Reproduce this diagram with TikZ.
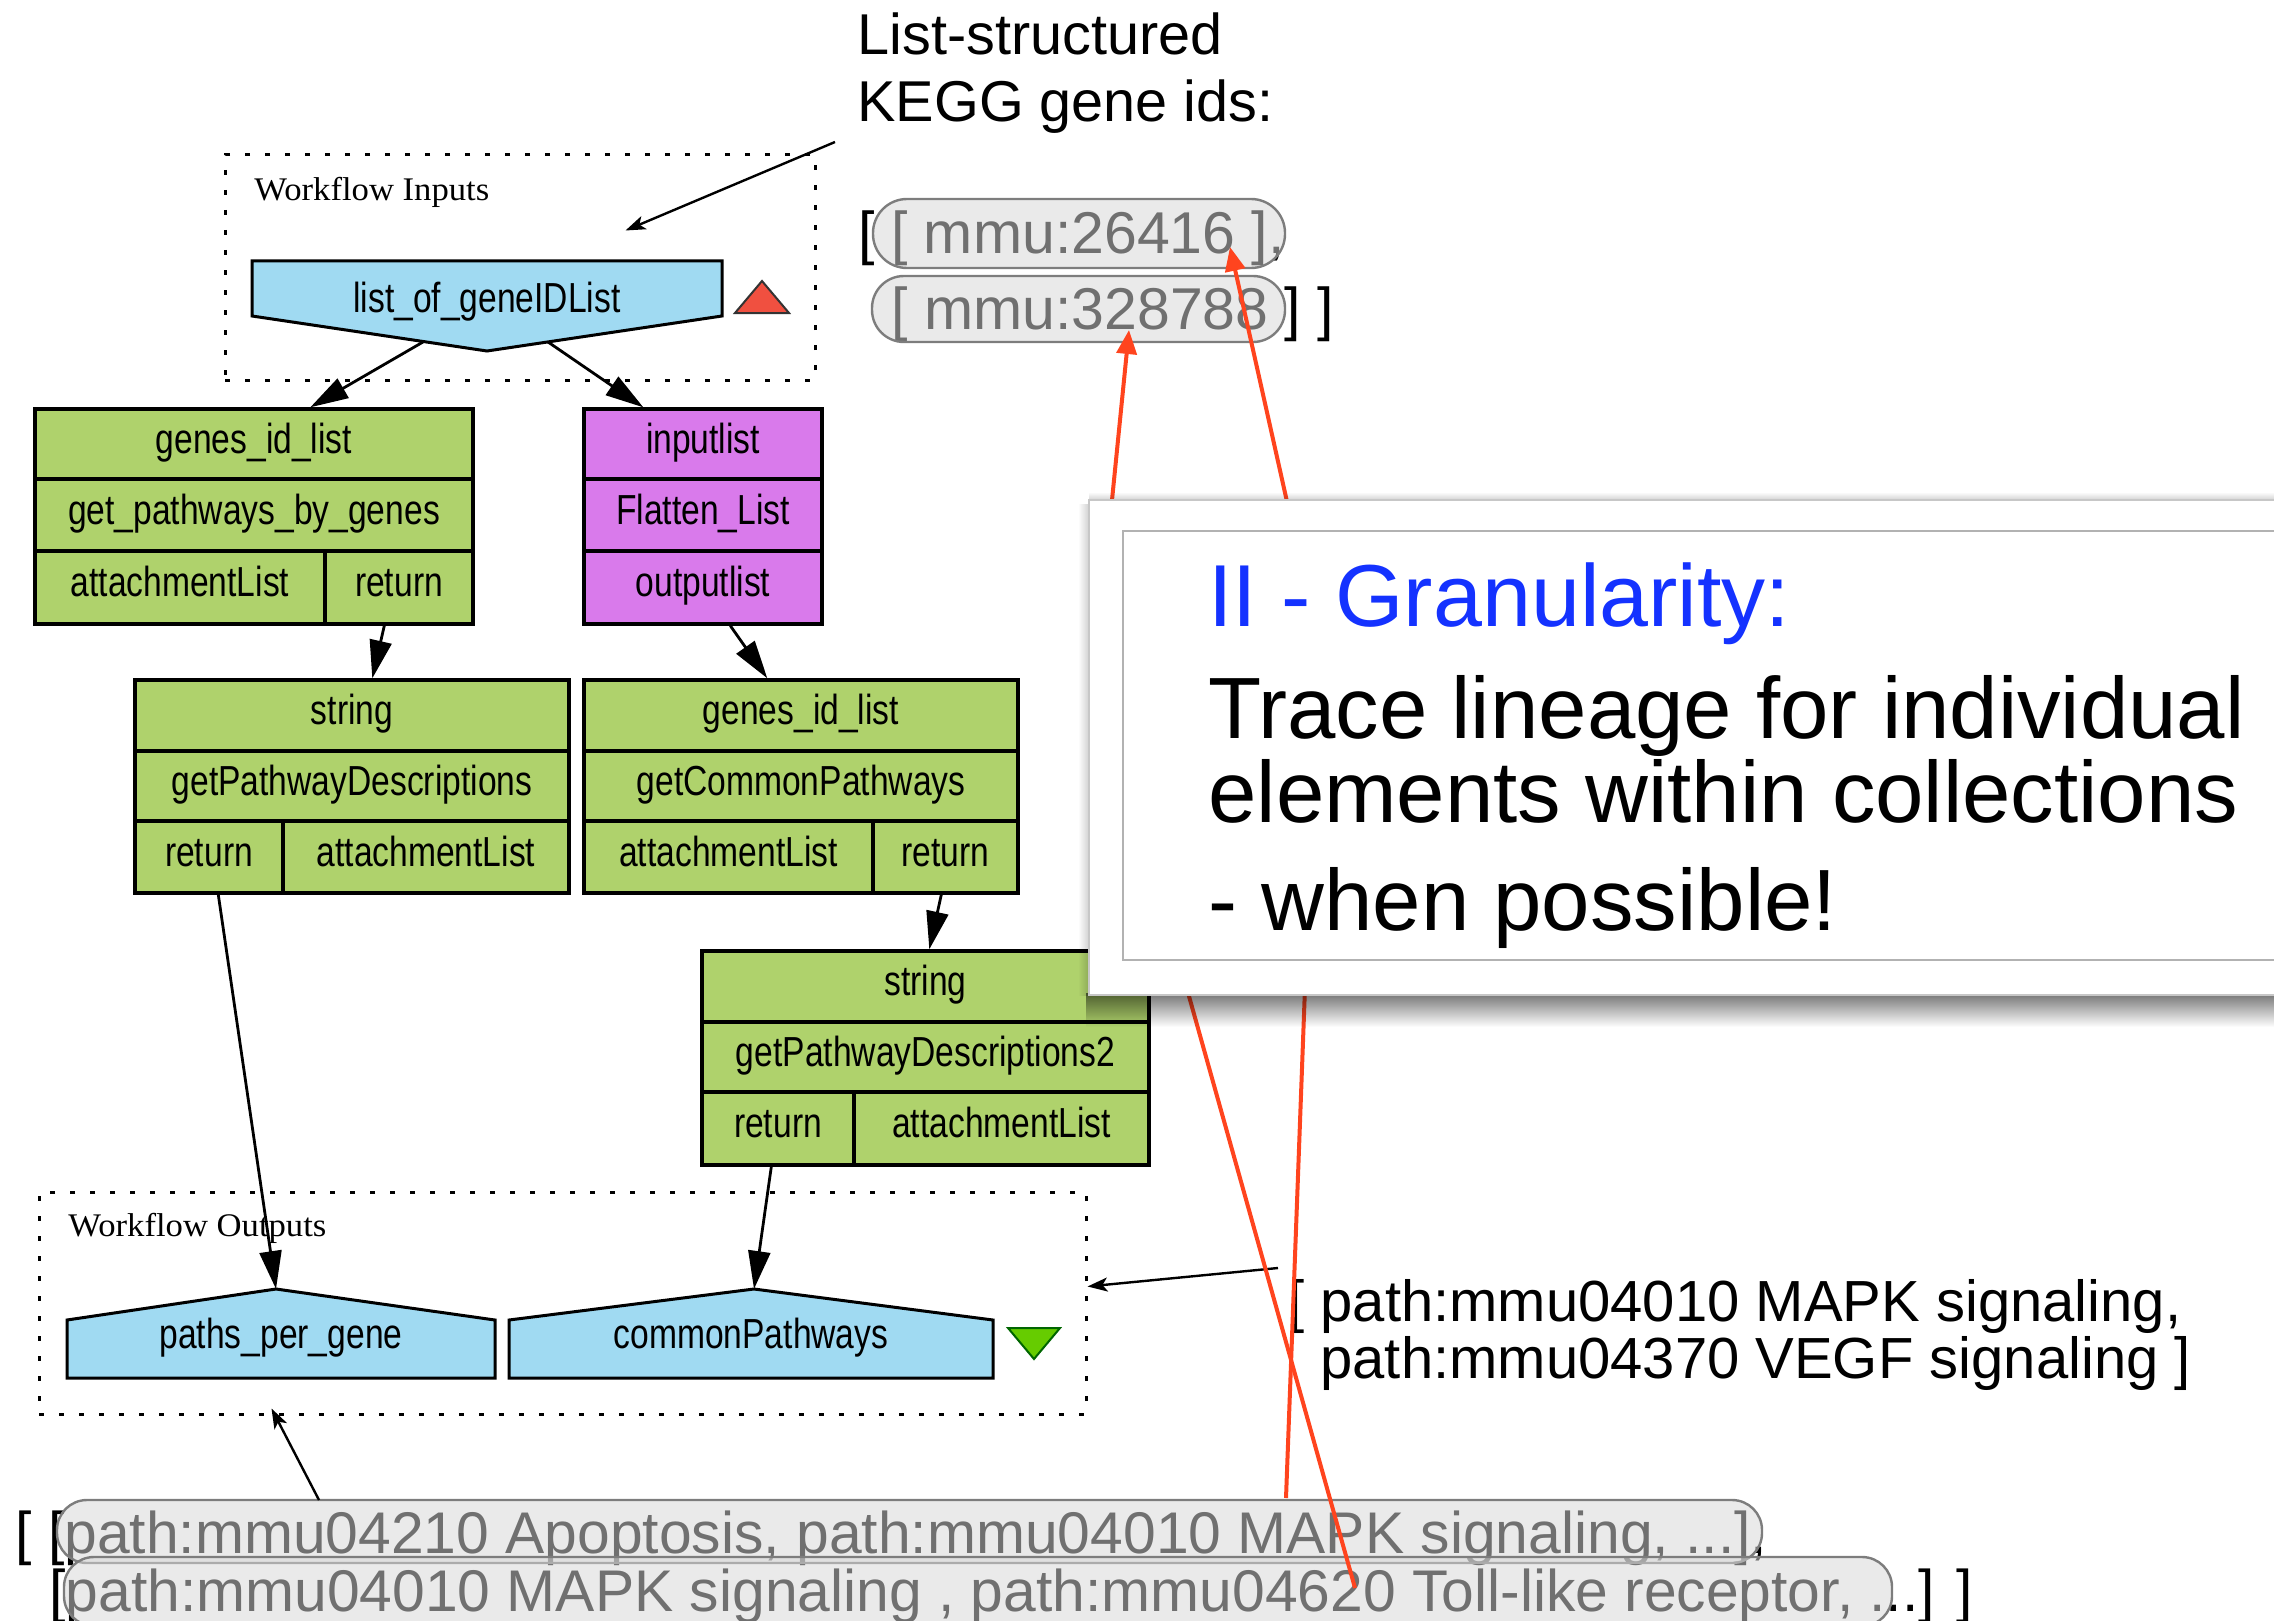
\documentclass[tikz,border=0pt]{standalone}
\usepackage{fontspec}
\setmainfont{Liberation Sans}
\newfontfamily\cellfont[FakeStretch=0.8]{Liberation Sans}
\newfontfamily\clusterfont[FakeStretch=1.05]{Liberation Serif}
\usetikzlibrary{arrows.meta,fit,fadings,calc}

\definecolor{procgreen}{RGB}{175,210,108}
\definecolor{localpurple}{RGB}{217,122,235}
\definecolor{portblue}{RGB}{160,218,242}
\definecolor{inputred}{RGB}{240,80,64}
\definecolor{outputgreen}{RGB}{102,204,0}
\definecolor{tracered}{RGB}{255,68,30}
\definecolor{titleblue}{RGB}{20,50,255}
\definecolor{pillfill}{RGB}{215,215,215}
\definecolor{pilledge}{RGB}{125,125,125}

\tikzfading[name=shadowdown, top color=transparent!45, bottom color=transparent!100]
\tikzfading[name=shadowup, top color=transparent!100, bottom color=transparent!80]
\tikzfading[name=shadowleft, left color=transparent!100, right color=transparent!80]

% one table cell of a processor box: style, name, x1, y1, x2, y2, label
\newcommand\cellnode[7]{%
  \node[#1, minimum width={(#5-#3)*0.5pt}, minimum height={(#6-#4)*0.5pt}]
    (#2) at ({(#3+#5)/2},{(#4+#6)/2}) {#7};}

\begin{document}
\begin{tikzpicture}[x=0.5pt, y=-0.5pt,
  cell/.style={draw, line width=1.7pt, inner sep=0pt,
    font=\cellfont\fontsize{21}{21}\selectfont, text height=0.97em, text depth=0.03em},
  gcell/.style={cell, fill=procgreen},
  pcell/.style={cell, fill=localpurple},
  portlabel/.style={inner sep=0pt, font=\cellfont\fontsize{21}{21}\selectfont,
    text height=0.95em, text depth=0.05em},
  portshape/.style={fill=portblue, draw=black, line width=1.5pt, line join=miter},
  cluster/.style={draw, line width=1.5pt, dash pattern=on 2.5pt off 7.5pt, inner sep=0pt, fit={#1}},
  clusterlabel/.style={anchor=base west, inner sep=0pt, font=\clusterfont\fontsize{16.5}{16.5}\selectfont},
  flow/.style={line width=1.4pt, -{Triangle[length=19pt,width=11pt]}},
  note/.style={line width=1.2pt, -{Stealth[length=10pt,width=7pt,inset=2.5pt]}},
  trace/.style={tracered, line width=2pt, line join=round, -{Triangle[length=12pt,width=10pt]}},
  pill/.style={fill=pillfill, fill opacity=0.52, draw=pilledge, line width=1.2pt},
  plain/.style={anchor=base west, inner sep=0pt},
]
\useasboundingbox (0,0) rectangle (2274,1621);
\begin{scope}
\clip (0,0) rectangle (2274,1621);

% ---------- workflow clusters ----------
\node[cluster={(225,155)(815,380)}] (inputs) {};
\node[clusterlabel] (inputsLabel) at (254,201) {Workflow Inputs};
\node[cluster={(39,1192)(1086,1414)}] (outputs) {};
\node[clusterlabel] (outputsLabel) at (68,1236) {Workflow Outputs};

% ---------- input port ----------
\draw[portshape] (252,261) -- (722,261) -- (722,316) -- (487,351) -- (252,316) -- cycle;
\node[portlabel] (inport) at (487,303) {list\_of\_geneIDList};
\filldraw[fill=inputred, draw=black!80, line width=1pt] (735,313) -- (789,313) -- (762,281) -- cycle;
\coordinate (inL) at (423,342);
\coordinate (inR) at (548,342);

% ---------- processors ----------
\cellnode{gcell}{A1}{35}{409}{473}{479}{genes\_id\_list}
\cellnode{gcell}{A2}{35}{479}{473}{551}{get\_pathways\_by\_genes}
\cellnode{gcell}{A3}{35}{551}{325}{624}{attachmentList}
\cellnode{gcell}{A4}{325}{551}{473}{624}{return}

\cellnode{pcell}{B1}{584}{409}{822}{479}{inputlist}
\cellnode{pcell}{B2}{584}{479}{822}{551}{Flatten\_List}
\cellnode{pcell}{B3}{584}{551}{822}{624}{outputlist}

\cellnode{gcell}{C1}{135}{680}{569}{751}{string}
\cellnode{gcell}{C2}{135}{751}{569}{821}{getPathwayDescriptions}
\cellnode{gcell}{C3}{135}{821}{283}{893}{return}
\cellnode{gcell}{C4}{283}{821}{569}{893}{attachmentList}

\cellnode{gcell}{D1}{584}{680}{1018}{751}{genes\_id\_list}
\cellnode{gcell}{D2}{584}{751}{1018}{821}{getCommonPathways}
\cellnode{gcell}{D3}{584}{821}{873}{893}{attachmentList}
\cellnode{gcell}{D4}{873}{821}{1018}{893}{return}

\cellnode{gcell}{E1}{702}{951}{1149}{1022}{string}
\cellnode{gcell}{E2}{702}{1022}{1149}{1092}{getPathwayDescriptions2}
\cellnode{gcell}{E3}{702}{1092}{854}{1165}{return}
\cellnode{gcell}{E4}{854}{1092}{1149}{1165}{attachmentList}

% ---------- output ports ----------
\draw[portshape] (67,1378) -- (67,1320) -- (276,1289) -- (495,1320) -- (495,1378) -- cycle;
\node[portlabel] (ppg) at (281,1339) {paths\_per\_gene};
\draw[portshape] (509,1378) -- (509,1320) -- (754,1289) -- (993,1320) -- (993,1378) -- cycle;
\node[portlabel] (cpw) at (751,1339) {commonPathways};
\filldraw[fill=outputgreen, draw=black!60!green, line width=1pt] (1008,1328) -- (1060,1328) -- (1034,1359) -- cycle;
\coordinate (ppgTop) at (276,1289);
\coordinate (cpwTop) at (754,1289);

% ---------- data links ----------
\draw[flow] (inL) -- ($(A1.north west)+(277,0)$);
\draw[flow] (inR) -- ($(B1.north west)+(61,0)$);
\draw[flow] ($(A4.south west)+(61,0)$) -- ($(C1.north west)+(239,0)$);
\draw[flow] ($(B3.south west)+(148,0)$) -- ($(D1.north west)+(185,0)$);
\draw[flow] ($(D4.south west)+(70,0)$) -- ($(E1.north west)+(229,0)$);
\draw[flow] ($(C3.south west)+(85,0)$) -- (ppgTop);
\draw[flow] ($(E3.south west)+(71,0)$) -- (cpwTop);

% ---------- input values ----------
\node[plain, font=\fontsize{28.8}{28.8}\selectfont] (kegg1) at (857,55) {List-structured};
\node[plain, font=\fontsize{28.8}{28.8}\selectfont] (kegg2) at (857,122) {KEGG gene ids:};
\coordinate (keggNote) at (835,142);
\draw[note] (keggNote) -- ($(inputs.north west)+(402,77)$);

\node[plain, font=\fontsize{29.5}{29.5}\selectfont] (ids1) at (858,254) {[ [ mmu:26416 ],};
\node[plain, font=\fontsize{29.5}{29.5}\selectfont] (ids2) at (891,329) {[ mmu:328788 ] ]};
\draw[pill, rounded corners=17pt] (873,199) rectangle (1285,268);
\draw[pill, rounded corners=16pt] (872,276) rectangle (1285,342);

% ---------- output values ----------
\node[plain, font=\fontsize{29}{29}\selectfont] (common1) at (1288,1321) {[ path:mmu04010 MAPK signaling,};
\node[plain, font=\fontsize{29}{29}\selectfont] (common2) at (1320,1378) {path:mmu04370 VEGF signaling ]};
\coordinate (commonNote) at (1278,1268);
\draw[note] (commonNote) -- ($(outputs.north east)+(0,96)$);

\node[plain, font=\fontsize{29.4}{29.4}\selectfont] (paths1) at (15,1553)
  {[ [path:mmu04210 Apoptosis, path:mmu04010 MAPK signaling, ...],};
\node[plain, font=\fontsize{29.4}{29.4}\selectfont] (paths2) at (49,1611)
  {[path:mmu04010 MAPK signaling , path:mmu04620 Toll-like receptor, ...] ]};
\draw[pill, rounded corners=15pt] (57,1500) rectangle (1762,1563);
\draw[pill, rounded corners=15pt] (64,1557) rectangle (1892,1626);
\coordinate (pathsNote) at (319,1500);
\draw[note] (pathsNote) -- ($(outputs.south west)+(234,-7)$);

% ---------- lineage traces ----------
\coordinate (geneA) at (1230,247);
\coordinate (geneB) at (1129,330);
\coordinate (pathA) at (1286,1498);
\coordinate (pathB) at (1355,1588);
\draw[trace] (pathA) -- (1309,880) -- (1309,600) -- (geneA);
\draw[trace] (pathB) -- (1162,900) -- (1102,600) -- (geneB);

% ---------- callout panel ----------
\fill[black, path fading=shadowdown] (1086,993) rectangle (2290,1027);
\fill[black, path fading=shadowleft] (1078,504) rectangle (1090,996);
\fill[black, path fading=shadowup] (1089,492) rectangle (2290,501);
\node[fit={(1089,500)(2300,995)}, inner sep=0pt, fill=white, draw=black!22, line width=0.8pt] (panel) {};
\node[fit={(1123,531)(2300,960)}, inner sep=0pt, draw=black!30, line width=0.8pt] (panelInner) {};

\node[plain, text=titleblue, font=\fontsize{44}{44}\selectfont] (title) at (1208,626) {II - Granularity:};
\node[plain, font=\fontsize{43.5}{43.5}\selectfont] (body1) at (1208,738) {Trace lineage for individual};
\node[plain, font=\fontsize{43.5}{43.5}\selectfont] (body2) at (1208,822) {elements within collections};
\node[plain, font=\fontsize{43.5}{43.5}\selectfont] (body3) at (1208,930) {- when possible!};
\end{scope}
\end{tikzpicture}
\end{document}
